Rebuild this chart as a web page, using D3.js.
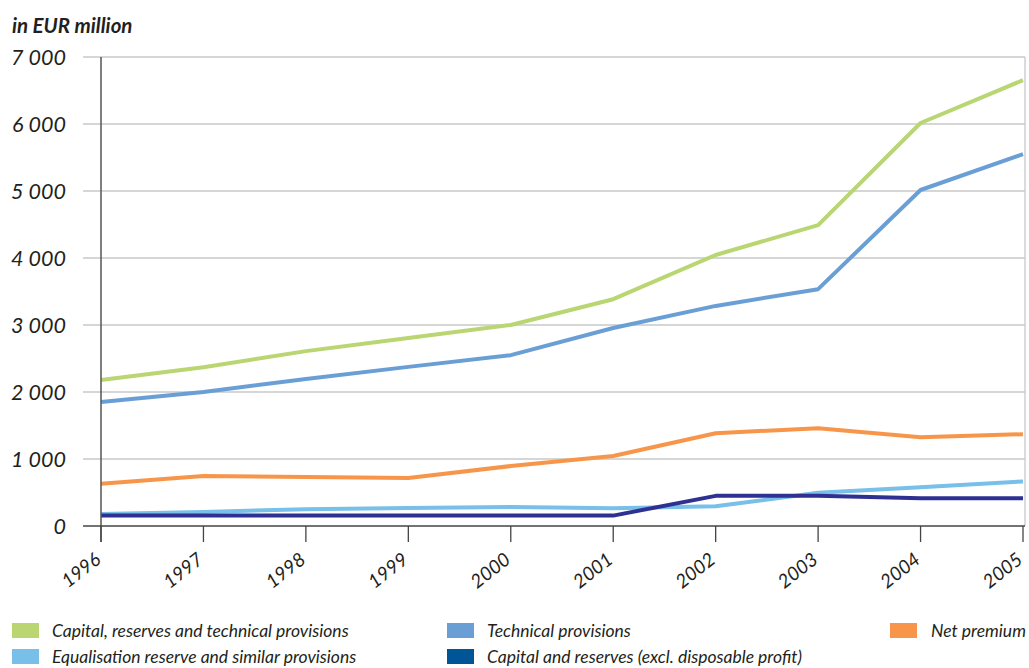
<!DOCTYPE html>
<html>
<head>
<meta charset="utf-8" />
<title>EUR million chart</title>
<style>
  body { margin: 0; background: #fff; }
  text { font-family: "Lato", "Open Sans", sans-serif; font-style: italic; fill: #231f20; }
</style>
</head>
<body>
<script src="https://d3js.org/d3.v7.min.js"></script>
<script>
// data
var years = [1996, 1997, 1998, 1999, 2000, 2001, 2002, 2003, 2004, 2005];
var capitalReservesTechnical = [2180, 2370, 2610, 2805, 3000, 3385, 4045, 4490, 6015, 6655];
var technicalProvisions = [1850, 2000, 2195, 2375, 2550, 2955, 3285, 3535, 5015, 5550];
var netPremium = [630, 745, 730, 715, 895, 1045, 1385, 1460, 1325, 1370];
var equalisationReserve = [180, 210, 250, 270, 285, 265, 295, 495, 580, 665];
var capitalAndReserves = [155, 155, 155, 155, 155, 155, 450, 450, 415, 415];
var yTicks = [0, 1000, 2000, 3000, 4000, 5000, 6000, 7000];

var series = [
  {name: "Capital, reserves and technical provisions", values: capitalReservesTechnical, color: "#b9d672", key: "#b9d672"},
  {name: "Technical provisions", values: technicalProvisions, color: "#6a9fd6", key: "#6a9fd6"},
  {name: "Net premium", values: netPremium, color: "#f7964a", key: "#f7964a"},
  {name: "Equalisation reserve and similar provisions", values: equalisationReserve, color: "#78bfe9", key: "#78bfe9"},
  {name: "Capital and reserves (excl. disposable profit)", values: capitalAndReserves, color: "#2e3192", key: "#005596"}
];

var width = 1029, height = 668;
var svg = d3.select("body").append("svg")
    .attr("width", width)
    .attr("height", height);

var x = d3.scaleLinear().domain([1996, 2005]).range([101, 1023]);
var y = d3.scaleLinear().domain([0, 7000]).range([526, 57]);

// grid
svg.append("g")
   .selectAll("line")
   .data(yTicks.filter(d => d > 0))
   .enter().append("line")
   .attr("x1", 83).attr("x2", 1025)
   .attr("y1", d => y(d)).attr("y2", d => y(d))
   .attr("stroke", "#c8c8c8").attr("stroke-width", 1.3);

svg.append("line")
   .attr("x1", 1025).attr("x2", 1025)
   .attr("y1", y(7000)).attr("y2", y(0))
   .attr("stroke", "#c8c8c8").attr("stroke-width", 1.3);

// y axis labels
svg.append("g")
   .selectAll("text")
   .data(yTicks)
   .enter().append("text")
   .attr("x", 66)
   .attr("y", d => y(d) + 8)
   .attr("text-anchor", "end")
   .attr("font-size", 21.5)
   .text(d => d3.format(",")(d).replace(",", " "));

svg.append("text")
   .attr("x", 12).attr("y", 33)
   .attr("font-size", 20.5)
   .attr("font-weight", 700)
   .text("in EUR million");

// lines
var line = d3.line()
    .x((d, i) => x(years[i]))
    .y(d => y(d));

svg.append("g")
   .selectAll("path")
   .data(series)
   .enter().append("path")
   .attr("d", d => line(d.values))
   .attr("fill", "none")
   .attr("stroke", d => d.color)
   .attr("stroke-width", 4)
   .attr("stroke-linejoin", "round");

// axes on top
svg.append("line")
   .attr("x1", 101).attr("x2", 101)
   .attr("y1", y(7000)).attr("y2", 542)
   .attr("stroke", "#555").attr("stroke-width", 1.5);

svg.append("line")
   .attr("x1", 83).attr("x2", 1025)
   .attr("y1", y(0)).attr("y2", y(0))
   .attr("stroke", "#444").attr("stroke-width", 1.5);

var xt = svg.append("g")
   .selectAll("g")
   .data(years)
   .enter().append("g")
   .attr("transform", d => "translate(" + x(d) + ",0)");

xt.append("line")
  .attr("y1", y(0)).attr("y2", 542)
  .attr("stroke", "#444").attr("stroke-width", 1.3);

xt.append("text")
  .attr("transform", "translate(1,562) rotate(-38)")
  .attr("text-anchor", "end")
  .attr("font-size", 19)
  .text(d => d);

// legend
var legendPos = [
  {x: 12, y: 623}, {x: 447, y: 623}, {x: 890, y: 623},
  {x: 12, y: 649}, {x: 447, y: 649}
];

var lg = svg.append("g")
   .selectAll("g")
   .data(series)
   .enter().append("g")
   .attr("transform", (d, i) => "translate(" + legendPos[i].x + "," + legendPos[i].y + ")");

lg.append("rect")
  .attr("width", 27).attr("height", 15)
  .attr("fill", d => d.key);

lg.append("text")
  .attr("x", (d, i) => i == 2 ? 41 : 40)
  .attr("y", 14)
  .attr("font-size", 17.5)
  .text(d => d.name);
</script>
</body>
</html>
